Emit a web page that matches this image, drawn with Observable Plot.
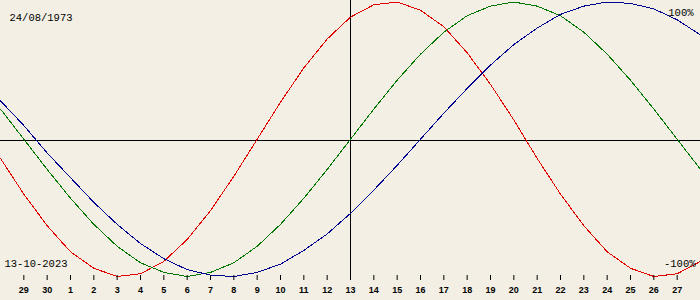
<!DOCTYPE html>
<html>
<head>
<meta charset="utf-8">
<script src="https://cdn.jsdelivr.net/npm/d3@7"></script>
<script src="https://cdn.jsdelivr.net/npm/@observablehq/plot@0.6"></script>
<style>
html, body { margin: 0; padding: 0; background: #f3efe4; }
#chart svg { display: block; }
</style>
</head>
<body>
<div id="chart"></div>
<script>
// Labels
const birthDate = "24/08/1973";
const viewDate = "13-10-2023";
const topLabel = "100%";
const bottomLabel = "-100%";

// Days relative to 13 Oct 2023 (28 Sep .. 28 Oct)
const dayOffsets = [-15,-14,-13,-12,-11,-10,-9,-8,-7,-6,-5,-4,-3,-2,-1,0,1,2,3,4,5,6,7,8,9,10,11,12,13,14,15];
// Tick positions and their labels (29 Sep .. 27 Oct)
const tickOffsets = [-14,-13,-12,-11,-10,-9,-8,-7,-6,-5,-4,-3,-2,-1,0,1,2,3,4,5,6,7,8,9,10,11,12,13,14];
const tickLabels = ["29","30","1","2","3","4","5","6","7","8","9","10","11","12","13","14","15","16","17","18","19","20","21","22","23","24","25","26","27"];

// Series values (fraction of 100%), read per day
const physical = [-0.14,-0.40,-0.63,-0.82,-0.94,-1.00,-0.98,-0.89,-0.73,-0.52,-0.27,0.00,0.27,0.52,0.73,0.89,0.98,1.00,0.94,0.82,0.63,0.40,0.14,-0.14,-0.40,-0.63,-0.82,-0.94,-1.00,-0.98,-0.89];
const emotional = [0.22,0.00,-0.22,-0.43,-0.62,-0.78,-0.90,-0.97,-1.00,-0.97,-0.90,-0.78,-0.62,-0.43,-0.22,0.00,0.22,0.43,0.62,0.78,0.90,0.97,1.00,0.97,0.90,0.78,0.62,0.43,0.22,0.00,-0.22];
const intellectual = [0.28,0.10,-0.10,-0.28,-0.46,-0.62,-0.76,-0.87,-0.95,-0.99,-1.00,-0.97,-0.91,-0.81,-0.69,-0.54,-0.37,-0.19,0.00,0.19,0.37,0.54,0.69,0.81,0.91,0.97,1.00,0.99,0.95,0.87,0.76];

const seriesNames = ["Physical", "Emotional", "Intellectual"];
const seriesColors = ["#e00000", "#007700", "#000090"];
const seriesValues = [physical, emotional, intellectual];

const rows = seriesNames.flatMap((name, s) =>
  dayOffsets.map((d, i) => ({day: d, value: seriesValues[s][i], series: name}))
);

const monoFont = "Liberation Mono";

const chart = Plot.plot({
  width: 700,
  height: 300,
  marginTop: 2,
  marginBottom: 25,
  marginLeft: 0,
  marginRight: 0,
  style: {background: "#f3efe4", fontFamily: "Liberation Sans", fontSize: "9px", color: "black"},
  x: {domain: [-15, 15], axis: null, label: null},
  y: {domain: [-1, 1], range: [276, 1.5], axis: null, label: null},
  color: {domain: seriesNames, range: seriesColors},
  marks: [
    Plot.ruleY([0], {stroke: "black", strokeWidth: 1, dy: 1, shapeRendering: "crispEdges"}),
    Plot.ruleX([0], {stroke: "black", strokeWidth: 1, insetTop: -2, insetBottom: -5, shapeRendering: "crispEdges"}),
    Plot.line(rows, {x: "day", y: "value", stroke: "series", z: "series", strokeWidth: 1, shapeRendering: "crispEdges"}),
    Plot.axisX(tickOffsets, {
      anchor: "bottom",
      label: null,
      tickSize: 5,
      tickPadding: 6,
      stroke: "black",
      fill: "black",
      fontSize: 9,
      fontWeight: "bold",
      fontFamily: "Liberation Sans",
      tickFormat: d => tickLabels[tickOffsets.indexOf(d)]
    }),
    Plot.text([birthDate], {frameAnchor: "top-left", textAnchor: "start", lineAnchor: "top", dx: 9, dy: 11, fontFamily: monoFont, fontSize: 10.5, fill: "black"}),
    Plot.text([topLabel], {frameAnchor: "top-right", textAnchor: "end", lineAnchor: "top", dx: -7, dy: 6, fontFamily: monoFont, fontSize: 10.5, fill: "black"}),
    Plot.text([viewDate], {frameAnchor: "bottom-left", textAnchor: "start", lineAnchor: "bottom", dx: 4, dy: -9, fontFamily: monoFont, fontSize: 10.5, fill: "black"}),
    Plot.text([bottomLabel], {frameAnchor: "bottom-right", textAnchor: "end", lineAnchor: "bottom", dx: -5, dy: -9, fontFamily: monoFont, fontSize: 10.5, fill: "black"})
  ]
});

document.getElementById("chart").appendChild(chart);
</script>
</body>
</html>
